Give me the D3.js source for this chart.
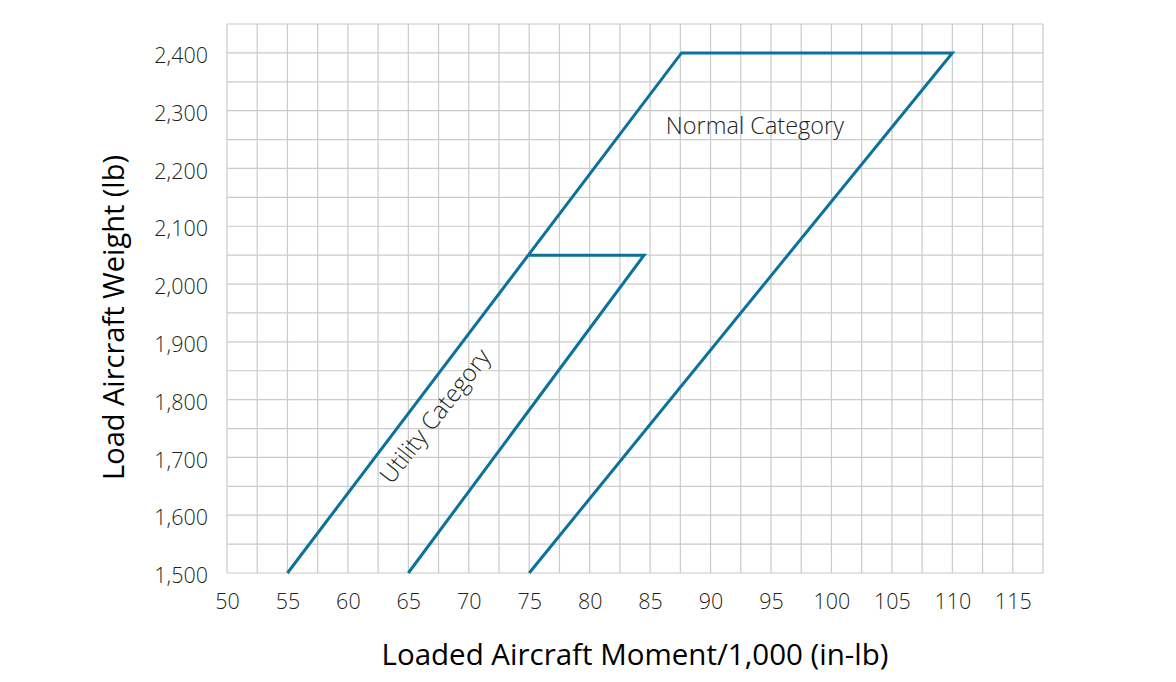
<!DOCTYPE html>
<html>
<head>
<meta charset="utf-8">
<script src="https://cdn.jsdelivr.net/npm/d3@7"></script>
<style>
  body { margin: 0; background: #fff; }
  svg text { font-family: "Open Sans", "Noto Sans", sans-serif; }
</style>
</head>
<body>
<div id="chart"></div>
<script>
// envelope outlines (moment/1000, weight)
const normalMoment = [75, 110, 87.6, 55];
const normalWeight = [1500, 2400, 2400, 1500];
const utilityMoment = [65, 84.5, 75];
const utilityWeight = [1500, 2050, 2050];
const xTicks = [50, 55, 60, 65, 70, 75, 80, 85, 90, 95, 100, 105, 110, 115];
const yTicks = [1500, 1600, 1700, 1800, 1900, 2000, 2100, 2200, 2300, 2400];

const width = 1176, height = 682;
const plotLeft = 227, plotRight = 1043, plotTop = 24, plotBottom = 573;
const lineColor = "#0b729b";

const svg = d3.select("#chart")
  .append("svg")
  .attr("width", width)
  .attr("height", height);

const xScale = d3.scaleLinear().domain([50, 117.5]).range([plotLeft, plotRight]);
const yScale = d3.scaleLinear().domain([1500, 2450]).range([plotBottom, plotTop]);

// grid every 2.5 and every 50 lb
const gx = d3.range(50, 117.5 + 0.01, 2.5);
const gy = d3.range(1500, 2450 + 0.01, 50);
svg.append("g").selectAll("line")
  .data(gx).join("line")
  .attr("x1", d => xScale(d)).attr("x2", d => xScale(d))
  .attr("y1", plotTop).attr("y2", plotBottom)
  .attr("stroke", "#c9cacb").attr("stroke-width", 1.2);
svg.append("g").selectAll("line")
  .data(gy).join("line")
  .attr("y1", d => yScale(d)).attr("y2", d => yScale(d))
  .attr("x1", plotLeft).attr("x2", plotRight)
  .attr("stroke", "#c9cacb").attr("stroke-width", 1.2);

// axes (labels only)
const xAxis = d3.axisBottom(xScale).tickValues(xTicks).tickSize(0).tickPadding(21);
svg.append("g")
  .attr("transform", `translate(0,${plotBottom})`)
  .call(xAxis)
  .call(g => g.select(".domain").remove())
  .selectAll("text")
  .style("font-size", "21.5px")
  .style("font-weight", 300)
  .attr("fill", "#231f20");

const yAxis = d3.axisLeft(yScale).tickValues(yTicks).tickSize(0).tickPadding(19)
  .tickFormat(d3.format(","));
svg.append("g")
  .attr("transform", `translate(${plotLeft},0)`)
  .call(yAxis)
  .call(g => g.select(".domain").remove())
  .selectAll("text")
  .attr("dy", "0.45em")
  .style("font-size", "21.5px")
  .style("font-weight", 300)
  .attr("fill", "#231f20");

// envelopes
const line = d3.line()
  .x(d => xScale(d[0]))
  .y(d => yScale(d[1]));

svg.append("path")
  .attr("d", line(normalMoment.map((m, i) => [m, normalWeight[i]])))
  .attr("fill", "none")
  .attr("stroke", lineColor)
  .attr("stroke-width", 3)
  .attr("stroke-linejoin", "miter");

svg.append("path")
  .attr("d", line(utilityMoment.map((m, i) => [m, utilityWeight[i]])))
  .attr("fill", "none")
  .attr("stroke", lineColor)
  .attr("stroke-width", 3);

// labels
svg.append("text")
  .attr("x", xScale(86.3))
  .attr("y", yScale(2259))
  .style("font-size", "23.5px")
  .style("font-weight", 300)
  .attr("fill", "#231f20")
  .text("Normal Category");

svg.append("text")
  .attr("transform", `translate(${xScale(63.6)},${yScale(1652)}) rotate(-52)`)
  .style("font-size", "24px")
  .style("font-weight", 300)
  .attr("fill", "#231f20")
  .text("Utility Category");

// axis titles
svg.append("text")
  .attr("x", 635)
  .attr("y", 665)
  .attr("text-anchor", "middle")
  .style("font-size", "29.5px")
  .attr("fill", "#000")
  .text("Loaded Aircraft Moment/1,000 (in-lb)");

svg.append("text")
  .attr("transform", `translate(124,${(plotTop + plotBottom) / 2 + 19}) rotate(-90)`)
  .attr("text-anchor", "middle")
  .style("font-size", "29px")
  .attr("fill", "#000")
  .text("Load Aircraft Weight (lb)");
</script>
</body>
</html>
